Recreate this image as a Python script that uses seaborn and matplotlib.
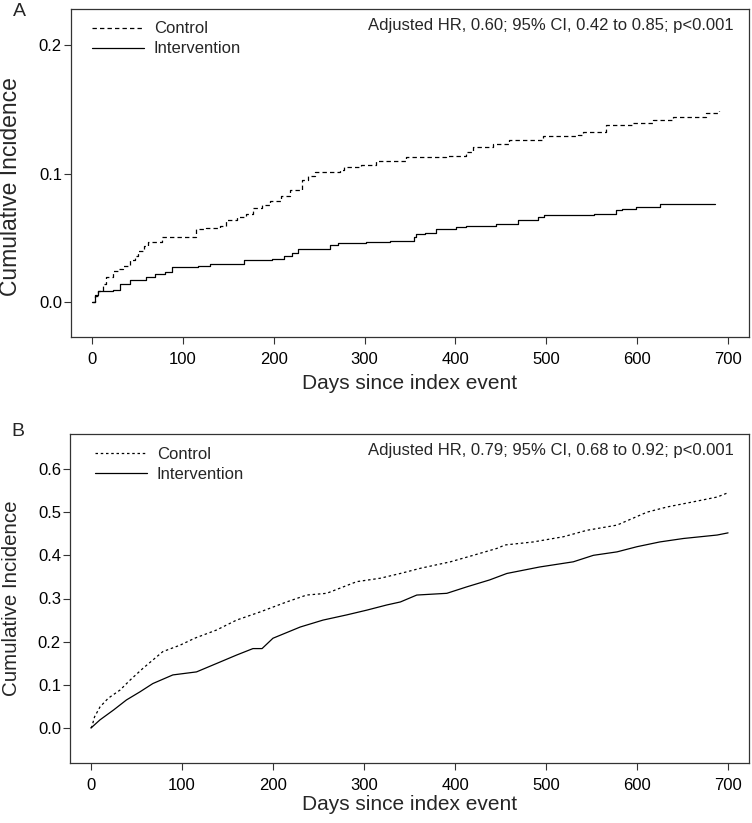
#!/usr/bin/env python3

import pandas
import matplotlib

matplotlib.use("Agg")
import matplotlib.pyplot as plt
import seaborn as sns

sns.set_theme(style="ticks")
plt.rcParams["font.family"] = ["Liberation Sans", "DejaVu Sans"]

# Panel A: step curves
a_control_days = [0, 3, 7, 12, 16, 23, 30, 34, 42, 47, 51, 57, 62, 77, 115, 126,
                  141, 148, 160, 170, 177, 187, 196, 208, 218, 231, 238, 245, 273,
                  277, 296, 313, 346, 390, 412, 419, 441, 459, 496, 535, 540, 566,
                  595, 617, 639, 676, 690]
a_control_ci = [0, .005, .009, .014, .020, .024, .026, .028, .033, .036, .040, .044,
                .047, .051, .057, .058, .059, .064, .066, .069, .073, .076, .079,
                .083, .087, .095, .098, .101, .103, .105, .107, .110, .113, .114,
                .117, .121, .123, .126, .129, .130, .1325, .138, .139, .142, .144,
                .147, .149]
a_interv_days = [0, 3, 7, 23, 31, 42, 60, 69, 80, 88, 117, 130, 167, 198, 211, 220,
                 227, 262, 271, 302, 328, 354, 357, 366, 379, 401, 412, 445, 469,
                 491, 497, 552, 577, 583, 599, 625, 686]
a_interv_ci = [0, .0054, .0088, .0093, .0145, .0176, .0197, .0223, .0236, .0275,
               .028, .030, .033, .034, .0358, .038, .0418, .0444, .0457, .047, .048,
               .0508, .053, .0542, .057, .0586, .0594, .061, .0638, .0664, .0677,
               .069, .072, .0729, .0737, .0763, .0765]

# Panel B
b_control_days = [0, 1, 4, 10, 19, 32, 43, 57, 79, 98, 114, 138, 160, 186, 215, 237,
                  259, 292, 318, 340, 362, 395, 420, 446, 455, 486, 519, 545, 578,
                  611, 633, 662, 688, 700]
b_control_ci = [0, .003, .026, .049, .069, .088, .111, .138, .177, .192, .208, .227,
                .250, .269, .292, .308, .312, .339, .347, .358, .370, .385, .400,
                .416, .424, .431, .443, .458, .470, .500, .512, .524, .535, .545]
b_interv_days = [0, 10, 25, 39, 54, 68, 90, 116, 142, 160, 178, 188, 200, 230, 255,
                 281, 303, 325, 340, 358, 391, 413, 438, 457, 493, 530, 552, 578,
                 600, 625, 651, 688, 700]
b_interv_ci = [0, .019, .042, .065, .084, .103, .123, .130, .153, .169, .184, .184,
               .208, .234, .250, .262, .273, .285, .292, .308, .312, .327, .343, .358,
               .373, .385, .400, .408, .420, .431, .439, .447, .452]

groups = ["Control", "Intervention"]
x_ticks = [0, 100, 200, 300, 400, 500, 600, 700]
a_y_ticks = [0.0, 0.1, 0.2]
b_y_ticks = [0.0, 0.1, 0.2, 0.3, 0.4, 0.5, 0.6]
a_note = "Adjusted HR, 0.60; 95% CI, 0.42 to 0.85; p<0.001"
b_note = "Adjusted HR, 0.79; 95% CI, 0.68 to 0.92; p<0.001"

W, H = 752, 823


def make_frame(ctrl_days, ctrl_ci, int_days, int_ci):
    parts = [
        pandas.DataFrame({"day": ctrl_days, "ci": ctrl_ci, "group": groups[0]}),
        pandas.DataFrame({"day": int_days, "ci": int_ci, "group": groups[1]}),
    ]
    return pandas.concat(parts, ignore_index=True)


def draw_panel(ax, df, dash, steps, yticks, ylim, note, ylab_size, ylab_y,
               xlab_y, legend_x):
    kw = {"drawstyle": "steps-post"} if steps else {}
    sns.lineplot(data=df, x="day", y="ci", style="group", style_order=groups,
                 dashes={groups[0]: dash, groups[1]: ""}, color="black",
                 linewidth=0.9, estimator=None, errorbar=None, sort=False,
                 ax=ax, **kw)
    ax.set_xlim(-23, 723)
    ax.set_ylim(*ylim)
    ax.set_xticks(x_ticks)
    ax.set_yticks(yticks)
    ax.set_yticklabels([f"{t:.1f}" for t in yticks])
    ax.tick_params(axis="both", direction="out", length=5, width=0.8,
                   color="#333333", labelsize=12, labelcolor="black")
    ax.tick_params(axis="x", pad=6)
    ax.tick_params(axis="y", pad=1.5)
    for s in ax.spines.values():
        s.set_visible(True)
        s.set_color("#333333")
        s.set_linewidth(0.9)

    ax.set_xlabel("Days since index event", fontsize=15)
    ax.set_ylabel("Cumulative Incidence", fontsize=ylab_size)
    ax.xaxis.set_label_coords(0.5, xlab_y)
    ax.yaxis.set_label_coords(-0.072, ylab_y)

    ax.text(0.978, 0.95, note, transform=ax.transAxes, ha="right", va="center",
            fontsize=12)

    leg = ax.legend(loc="upper left", bbox_to_anchor=(legend_x, 0.962),
                    frameon=False, fontsize=12, handlelength=3.1,
                    handletextpad=0.6, labelspacing=0.3, borderpad=0,
                    borderaxespad=0)
    for line in leg.get_lines():
        line.set_linewidth(0.9)


def main():
    fig = plt.figure(figsize=(W / 100, H / 100), dpi=100)
    ax_a = fig.add_axes([71 / W, 1 - 337 / H, 678 / W, 328 / H])
    ax_b = fig.add_axes([70 / W, 1 - 763 / H, 679 / W, 329 / H])

    df_a = make_frame(a_control_days, a_control_ci, a_interv_days, a_interv_ci)
    df_b = make_frame(b_control_days, b_control_ci, b_interv_days, b_interv_ci)

    draw_panel(ax_a, df_a, (3.5, 2.5), True, a_y_ticks, (-0.027, 0.228), a_note,
               16.5, 0.46, -0.112, 0.031)
    draw_panel(ax_b, df_b, (2, 2.2), False, b_y_ticks, (-0.081, 0.681), b_note,
               14.8, 0.5, -0.098, 0.037)

    fig.text(19 / W, 1 - 11 / H, "A", ha="center", va="center", fontsize=14)
    fig.text(18 / W, 1 - 432 / H, "B", ha="center", va="center", fontsize=14)

    fig.savefig("out.png", dpi=100)
    plt.close()


if __name__ == "__main__":
    main()
